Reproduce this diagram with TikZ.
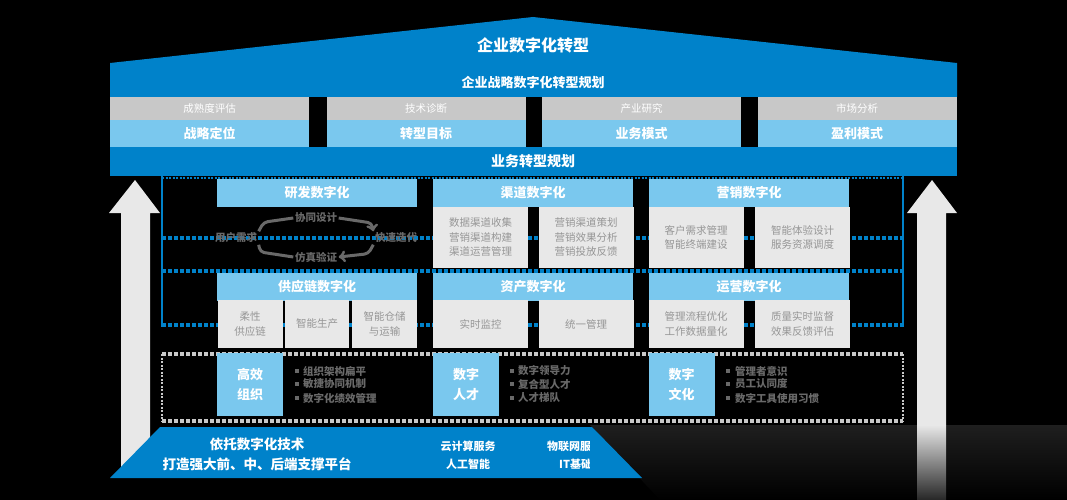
\documentclass[tikz,border=0pt]{standalone}
\usepackage{fontspec}
\setmainfont{Noto Sans CJK SC}
\definecolor{dblue}{RGB}{0,130,202}
\definecolor{lblue}{RGB}{122,200,238}
\definecolor{lgray}{RGB}{200,200,200}
\definecolor{cellgray}{RGB}{232,232,232}
\definecolor{txtgray}{RGB}{150,150,150}
\definecolor{dgray}{RGB}{105,105,105}
\definecolor{arrowgray}{RGB}{232,232,232}

\begin{document}
\begin{tikzpicture}[x=1pt, y=-1pt,
    band/.style = {text=white, inner sep=0pt, align=center, font=\bfseries\fontsize{13}{20}\selectfont},
    tag/.style = {rectangle, fill=lgray, text=white, minimum width=199pt, minimum height=23pt, inner sep=0pt, font=\fontsize{10.5}{12}\selectfont},
    goal/.style = {rectangle, fill=lblue, text=white, minimum width=199pt, minimum height=27pt, inner sep=0pt, font=\bfseries\fontsize{13}{15}\selectfont},
    head/.style = {goal, minimum width=200pt, minimum height=28pt},
    cell/.style = {rectangle, fill=cellgray, text=txtgray, minimum width=95pt, minimum height=61pt, inner sep=0pt, align=center, font=\fontsize{10.5}{14.5}\selectfont},
    pillar/.style = {rectangle, fill=lblue, text=white, minimum width=66pt, minimum height=63pt, inner sep=0pt, align=center, font=\bfseries\fontsize{13}{20}\selectfont},
    item/.style = {anchor=west, text=dgray, inner sep=0pt, font=\bfseries\fontsize{10.5}{12}\selectfont},
    bullet/.style = {rectangle, fill=dgray, minimum size=4pt, inner sep=0pt},
    cyc/.style = {text=dgray, inner sep=1.5pt, font=\bfseries\fontsize{10.5}{12}\selectfont},
    cycline/.style = {draw=dgray, line width=3pt, rounded corners=4pt},
    link/.style = {draw=dblue, line width=4pt, dash pattern=on 4pt off 2pt},
    rim/.style = {draw=lgray, line width=4pt, dash pattern=on 4pt off 2pt}]

% background
\fill[black] (0,0) rectangle (1067,500);
\shade[top color=black!88!white, bottom color=black] (590,425) -- (1067,425) -- (1067,500) -- (660,500) -- cycle;

% side arrows
\fill[arrowgray] (121,470) -- (121,213) -- (109,213) -- (135,180) -- (160,213) -- (150,213) -- (150,470) -- cycle;
\fill[arrowgray] (917,425) -- (917,213) -- (907,213) -- (932,180) -- (957,213) -- (946,213) -- (946,425) -- cycle;
\shade[top color=arrowgray, bottom color=black!85!white] (917,425) rectangle (946,500);

% roof
\fill[dblue] (110,63) -- (533,17) -- (957,63) -- (957,97) -- (110,97) -- cycle;
\node[band, font=\bfseries\fontsize{16}{18}\selectfont] (top) at (533,45) {企业数字化转型};
\node[band] (plan) at (533,83) {企业战略数字化转型规划};

\node[tag] (t1) at (209.5,108.5) {成熟度评估};
\node[tag] (t2) at (426,108.5) {技术诊断};
\node[tag] (t3) at (641.5,108.5) {产业研究};
\node[tag] (t4) at (857,108.5) {市场分析};
\node[goal] (g1) at (209.5,133.5) {战略定位};
\node[goal] (g2) at (426,133.5) {转型目标};
\node[goal] (g3) at (641.5,133.5) {业务模式};
\node[goal] (g4) at (857,133.5) {盈利模式};

\fill[dblue] (110,147) rectangle (957,176);
\node[band, font=\bfseries\fontsize{14}{16}\selectfont] (biz) at (533,161.5) {业务转型规划};

% blue frame and dashed rails
\draw[dblue, line width=1.5pt, dash pattern=on 2pt off 1.5pt] (162,178) -- (903,178);
\coordinate (lt) at (162,176); \coordinate (lb) at (162,327);
\coordinate (rt) at (903,176); \coordinate (rb) at (903,327);
\draw[dblue, line width=2pt] (lt) -- (lb);
\draw[dblue, line width=2pt] (rt) -- (rb);
\foreach \y/\n in {238/1,271/2,325/3} {
    \coordinate (w\n) at (162,\y); \coordinate (e\n) at (903,\y);
    \draw[link] (w\n) -- (e\n);
}

% first row
\node[head] (rd) at (317,193) {研发数字化};
\node[head] (ch) at (533,193) {渠道数字化};
\node[head] (mk) at (749,193) {营销数字化};
\node[cell] (ch1) at (480.5,237.5) {数据渠道收集\\营销渠道构建\\渠道运营管理};
\node[cell] (ch2) at (586,237.5) {营销渠道策划\\营销效果分析\\营销投放反馈};
\node[cell] (mk1) at (696,237.5) {客户需求管理\\智能终端建设};
\node[cell] (mk2) at (802.5,237.5) {智能体验设计\\服务资源调度};

% R&D cycle
\node[cyc] (l) at (236,238) {用户需求};
\node[cyc] (t) at (316,218) {协同设计};
\node[cyc] (r) at (396,238) {快速迭代};
\node[cyc] (b) at (316,257) {仿真验证};
\draw[cycline] (l.north east) -- ++(5,-9) -- (t.west);
\draw[cycline, ->] (t.east) -- ++(33,5) -- (r.north west);
\draw[cycline, ->] (r.south west) -- ++(-5,9) -- (b.east);
\draw[cycline] (b.west) -- ++(-33,-5) -- (l.south east);

% second row
\node[head] (sc) at (317,286.5) {供应链数字化};
\node[head] (as) at (533,286.5) {资产数字化};
\node[head] (op) at (749,286.5) {运营数字化};
\node[cell, minimum width=65pt, minimum height=48pt] (sc1) at (250,324) {柔性\\供应链};
\node[cell, minimum width=64pt, minimum height=48pt] (sc2) at (317,324) {智能生产};
\node[cell, minimum width=65pt, minimum height=48pt] (sc3) at (384.5,324) {智能仓储\\与运输};
\node[cell, minimum height=48pt] (as1) at (480.5,324) {实时监控};
\node[cell, minimum height=48pt] (as2) at (586,324) {统一管理};
\node[cell, minimum height=48pt] (op1) at (696,324) {管理流程优化\\工作数据量化};
\node[cell, minimum height=48pt] (op2) at (802.5,324) {质量实时监督\\效果反馈评估};

% organisation layer
\draw[rim] (162,354) -- (903,354);
\draw[rim] (162,421) -- (903,421);
\draw[lgray, line width=1.5pt, dash pattern=on 2pt off 1.5pt] (162,354) -- (162,421);
\draw[lgray, line width=1.5pt, dash pattern=on 2pt off 1.5pt] (903,354) -- (903,421);

\node[pillar] (org) at (250,384) {高效\\组织};
\node[pillar] (tal) at (466,384) {数字\\人才};
\node[pillar] (cul) at (681.5,384) {数字\\文化};

\node[bullet] (o1) at (297,371) {}; \node[item] (oi1) at (303,371) {组织架构扁平};
\node[bullet] (o2) at (297,384) {}; \node[item] (oi2) at (303,384) {敏捷协同机制};
\node[bullet] (o3) at (297,398) {}; \node[item] (oi3) at (303,398) {数字化绩效管理};
\node[bullet] (p1) at (512,371) {}; \node[item] (pi1) at (518,371) {数字领导力};
\node[bullet] (p2) at (512,384) {}; \node[item] (pi2) at (518,384) {复合型人才};
\node[bullet] (p3) at (512,398) {}; \node[item] (pi3) at (518,398) {人才梯队};
\node[bullet] (c1) at (728,371) {}; \node[item] (ci1) at (735,371) {管理者意识};
\node[bullet] (c2) at (728,384) {}; \node[item] (ci2) at (735,384) {员工认同度};
\node[bullet] (c3) at (728,398) {}; \node[item] (ci3) at (735,398) {数字工具使用习惯};

% platform
\fill[dblue] (110,478) -- (160,427) -- (592,427) -- (642,478) -- cycle;
\node[band, font=\bfseries\fontsize{13.5}{20}\selectfont] (base) at (257,454) {依托数字化技术\\打造强大前、中、后端支撑平台};
\node[band, font=\bfseries\fontsize{11}{18}\selectfont] (cloud) at (468,455) {云计算服务\\人工智能};
\begin{scope}
    \clip (540,427) rectangle (589,478);
    \node[band, anchor=west, font=\bfseries\fontsize{11}{13}\selectfont] (iot) at (547,446) {物联网服务};
    \node[band, anchor=west, font=\bfseries\fontsize{11}{13}\selectfont] (itb) at (559,464) {IT基础设施};
\end{scope}
\end{tikzpicture}
\end{document}
